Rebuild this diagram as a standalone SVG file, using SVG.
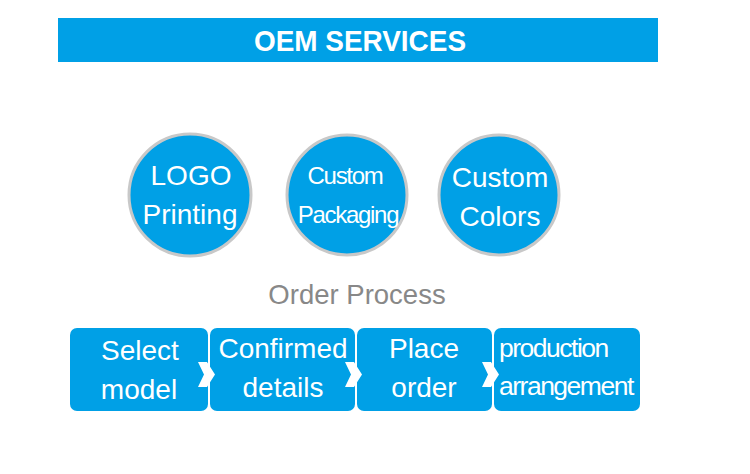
<svg xmlns="http://www.w3.org/2000/svg" width="750" height="474" viewBox="0 0 750 474">
<style>
.c{fill:#00a0e6;stroke:#c8c8c8;stroke-width:3}
.b{fill:#00a0e6}
.t{font-family:"Liberation Sans",Arial,sans-serif;fill:#fff;text-anchor:middle}
.chev{fill:#fff}
</style>
<rect width="750" height="474" fill="#fff"/>
<g id="header">
<rect x="58" y="18" width="600" height="44" fill="#00a0e6"/>
<text x="360" y="51" class="t" style="font-size:30px;font-weight:bold" textLength="212" lengthAdjust="spacingAndGlyphs">OEM SERVICES</text>
</g>
<g id="logo-printing">
<circle cx="190" cy="195" r="61" class="c"/>
<text x="191" y="185" class="t" style="font-size:28px">LOGO</text>
<text x="190" y="224" class="t" style="font-size:28px">Printing</text>
</g>
<g id="custom-packaging">
<circle cx="347" cy="195" r="60" class="c"/>
<text x="345" y="184" class="t" style="font-size:24px;letter-spacing:-1.3px">Custom</text>
<text x="348" y="223" class="t" style="font-size:24px;letter-spacing:-1.3px">Packaging</text>
</g>
<g id="custom-colors">
<circle cx="499" cy="195" r="60" class="c"/>
<text x="500" y="187" class="t" style="font-size:28px">Custom</text>
<text x="500" y="226" class="t" style="font-size:28px">Colors</text>
</g>
<g id="order-process">
<text x="357" y="304" style="font-family:'Liberation Sans',Arial,sans-serif;font-size:27.5px;fill:#888;text-anchor:middle">Order Process</text>
</g>
<g id="select-model">
<rect x="70" y="328" width="138" height="83" rx="7" class="b"/>
<text x="140" y="360" class="t" style="font-size:28px">Select</text>
<text x="139" y="399" class="t" style="font-size:28px">model</text>
</g>
<g id="confirmed-details">
<rect x="210" y="328" width="145" height="83" rx="7" class="b"/>
<text x="283" y="358" class="t" style="font-size:28px">Confirmed</text>
<text x="283" y="397" class="t" style="font-size:28px">details</text>
</g>
<g id="place-order">
<rect x="357" y="328" width="135" height="83" rx="7" class="b"/>
<text x="424" y="358" class="t" style="font-size:28px">Place</text>
<text x="424" y="397" class="t" style="font-size:28px">order</text>
</g>
<g id="production-arrangement">
<rect x="494" y="328" width="146" height="83" rx="7" class="b"/>
<text x="499" y="357" style="font-family:'Liberation Sans',Arial,sans-serif;font-size:26.5px;fill:#fff;letter-spacing:-1.5px">production</text>
<text x="499" y="395" style="font-family:'Liberation Sans',Arial,sans-serif;font-size:26.5px;fill:#fff;letter-spacing:-1.5px">arrangement</text>
</g>
<g id="connectors">
<polygon class="chev" points="198,362 207,362 215,374.5 207,387 198,387 204,374.5"/>
<polygon class="chev" points="345,362 354,362 362,374.5 354,387 345,387 351,374.5"/>
<polygon class="chev" points="482,362 491,362 499,374.5 491,387 482,387 488,374.5"/>
</g>
</svg>
